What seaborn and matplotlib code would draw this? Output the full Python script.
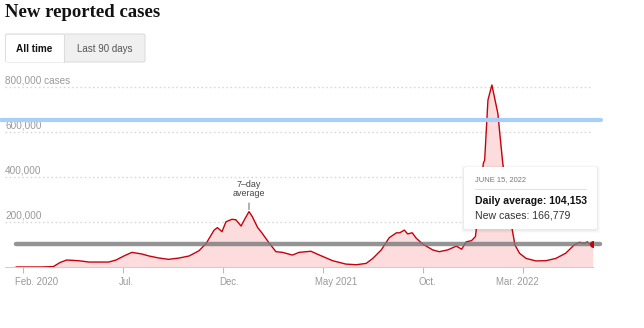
import matplotlib
matplotlib.use("Agg")
import matplotlib.pyplot as plt
import matplotlib.dates as mdates
from matplotlib.patches import FancyBboxPatch, Rectangle
from matplotlib.lines import Line2D
import matplotlib.transforms as mtransforms
import seaborn as sns
import pandas as pd
import numpy as np

# ---------------- data ----------------
dates = ["2020-01-21", "2020-03-01", "2020-03-18", "2020-03-28", "2020-04-07", "2020-04-25",
         "2020-05-11", "2020-06-10", "2020-06-21", "2020-07-03", "2020-07-15", "2020-07-30",
         "2020-08-10", "2020-08-25", "2020-09-09", "2020-09-25", "2020-10-10", "2020-10-25",
         "2020-11-05", "2020-11-17", "2020-11-22", "2020-11-29", "2020-12-05", "2020-12-14",
         "2020-12-20", "2020-12-28", "2021-01-02", "2021-01-09", "2021-01-14", "2021-01-22",
         "2021-01-29", "2021-02-09", "2021-02-19", "2021-03-01", "2021-03-16", "2021-03-26",
         "2021-04-13", "2021-04-26", "2021-05-16", "2021-06-05", "2021-06-21", "2021-07-06",
         "2021-07-16", "2021-07-29", "2021-08-10", "2021-08-21", "2021-08-26", "2021-09-02",
         "2021-09-07", "2021-09-14", "2021-09-20", "2021-09-30", "2021-10-15", "2021-10-25",
         "2021-11-07", "2021-11-20", "2021-11-28", "2021-12-05", "2021-12-13", "2021-12-19",
         "2021-12-23", "2021-12-31", "2022-01-02", "2022-01-07", "2022-01-13", "2022-01-22",
         "2022-01-29", "2022-02-05", "2022-02-13", "2022-02-17", "2022-02-24", "2022-03-06",
         "2022-03-21", "2022-04-05", "2022-04-20", "2022-05-05", "2022-05-18", "2022-05-26",
         "2022-06-02", "2022-06-07", "2022-06-10", "2022-06-15"]
cases_7day = [0, 0, 2000, 20000, 31000, 28000,
              22000, 22000, 31000, 49000, 65000, 58000,
              49000, 40000, 34000, 40000, 49000, 72000,
              105000, 164000, 175000, 157000, 201000, 212000,
              210000, 182000, 210000, 246000, 224000, 176000,
              150000, 105000, 68000, 65000, 53000, 65000,
              70000, 53000, 28000, 13000, 10000, 16000,
              38000, 76000, 130000, 152000, 152000, 164000,
              147000, 152000, 128000, 102000, 76000, 68000,
              76000, 93000, 79000, 112000, 117000, 135000,
              238000, 461000, 475000, 742000, 809000, 683000,
              475000, 300000, 164000, 98000, 61000, 38000,
              27000, 28000, 38000, 61000, 98000, 110000,
              105000, 112000, 102000, 104153]

y_ticks = [200000, 400000, 600000, 800000]
y_tick_labels = ["200,000", "400,000", "600,000", "800,000 cases"]
x_ticks = ["2020-02-01", "2020-07-01", "2020-12-01", "2021-05-01", "2021-10-01", "2022-03-01"]
x_tick_labels = ["Feb. 2020", "Jul.", "Dec.", "May 2021", "Oct.", "Mar. 2022"]

blue_ref_value = 653000
gray_ref_value = 102000
annot_date = "2021-01-09"
annot_value = 246000
tooltip_date = "JUNE 15, 2022"
tooltip_avg = "Daily average: 104,153"
tooltip_new = "New cases: 166,779"

df = pd.DataFrame({"date": pd.to_datetime(dates), "cases": cases_7day})

# ---------------- figure ----------------
W, H = 644, 328
sns.set_theme(style="white")
plt.rcParams["font.family"] = ["Liberation Sans", "DejaVu Sans"]
fig = plt.figure(figsize=(W / 100, H / 100), dpi=100)

def fx(x):
    return x / W

def fy(y):
    return 1 - y / H

ymax = 850000
ax_left, ax_right, ax_bottom_px, ax_top_px = 5, 593, 267, 75.75
ax = fig.add_axes([fx(ax_left), fy(ax_bottom_px), (ax_right - ax_left) / W,
                   (ax_bottom_px - ax_top_px) / H])

RED = "#c8000a"
FILL = "#fcdcdc"

ax.fill_between(df["date"], df["cases"], 0, color=FILL, linewidth=0, zorder=1)
sns.lineplot(data=df, x="date", y="cases", ax=ax, color=RED, linewidth=1.0, zorder=3)
ax.plot(df["date"].iloc[-1:], df["cases"].iloc[-1:], "o", color=RED, markersize=4.0, zorder=6)

ax.set_xlim(pd.Timestamp("2020-01-04 08:00"), pd.Timestamp("2022-06-15 14:00"))
ax.set_ylim(0, ymax)
ax.set_xlabel("")
ax.set_ylabel("")

# grid
for v in y_ticks:
    ax.axhline(v, color="#d9d9d9", lw=1.0, ls=(0, (1.2, 1.8)), zorder=0)
for s in ["top", "right", "left"]:
    ax.spines[s].set_visible(False)
ax.spines["bottom"].set_color("#cfcfcf")
ax.spines["bottom"].set_linewidth(0.8)

# y tick labels above the gridlines
ax.set_yticks(y_ticks)
ax.set_yticklabels(y_tick_labels)
ax.tick_params(axis="y", length=0, pad=0, labelsize=7.2, labelcolor="#999999")
for lab in ax.get_yticklabels():
    lab.set_ha("left")
    lab.set_va("bottom")
    lab.set_transform(lab.get_transform() + mtransforms.ScaledTranslation(0, 1.0 / 72, fig.dpi_scale_trans))

# x ticks
ax.set_xticks(pd.to_datetime(x_ticks))
ax.set_xticklabels(x_tick_labels)
ax.tick_params(axis="x", length=4, width=0.8, color="#bbbbbb", pad=3,
               labelsize=6.9, labelcolor="#999999", bottom=True)
x_label_offsets = [-8, -4, -4, -7.6, -4.7, -27]
for lab, off in zip(ax.get_xticklabels(), x_label_offsets):
    lab.set_ha("left")
    lab.set_transform(lab.get_transform() + mtransforms.ScaledTranslation(off / 100, 0, fig.dpi_scale_trans))

# reference lines
ax_w = ax_right - ax_left
ax.axhline(blue_ref_value, xmin=(1 - ax_left) / ax_w, xmax=(601 - ax_left) / ax_w,
           color="#a6d0f7", lw=3.0, solid_capstyle="round", clip_on=False, zorder=5)
ax.axhline(gray_ref_value, xmin=(16 - ax_left) / ax_w, xmax=(600 - ax_left) / ax_w,
           color="#7a7a7a", alpha=0.8, lw=3.2, solid_capstyle="round", clip_on=False, zorder=5)

# 7-day average annotation
ax.annotate("7–day\naverage", xy=(pd.Timestamp(annot_date), annot_value),
            xytext=(0, 9.5), textcoords="offset points", ha="center", va="bottom",
            fontsize=6.4, color="#444444", linespacing=1.0,
            arrowprops=dict(arrowstyle="-", color="#777777", lw=0.8, shrinkA=1, shrinkB=1.5),
            zorder=6)

# title
fig.text(fx(5), fy(12.5), "New reported cases", fontsize=13.5, fontweight="bold",
         family=["Liberation Serif", "DejaVu Serif"], color="#121212", va="center", ha="left")

# buttons
btn_border = FancyBboxPatch((fx(5.5), fy(62)), fx(139.5), (62 - 34) / H,
                            boxstyle="round,pad=0,rounding_size=0.004",
                            transform=fig.transFigure, facecolor="#f0f0f0",
                            edgecolor="#dddddd", lw=0.8, zorder=1)
fig.patches.append(btn_border)
btn_left = Rectangle((fx(6), fy(61.5)), fx(58), (61.5 - 34.5) / H, transform=fig.transFigure,
                     facecolor="white", edgecolor="none", zorder=2)
fig.patches.append(btn_left)
fig.add_artist(Line2D([fx(64), fx(64)], [fy(34.5), fy(61.5)], color="#dddddd", lw=0.8,
                      transform=fig.transFigure, zorder=3))
fig.text(fx(34.5), fy(48.5), "All time", fontsize=7.2, fontweight="bold", color="#121212",
         ha="center", va="center")
fig.text(fx(104.5), fy(48.5), "Last 90 days", fontsize=7.0, color="#555555",
         ha="center", va="center")

# tooltip
tx0, ty0, tx1, ty1 = 464, 167, 597, 229
for i, a in enumerate([0.035, 0.025, 0.015]):
    d = i + 1
    sh = FancyBboxPatch((fx(tx0 - d), fy(ty1 + d + 1)), fx(tx1 - tx0 + 2 * d), (ty1 - ty0 + 2 * d) / H,
                        boxstyle="round,pad=0,rounding_size=0.006", transform=fig.transFigure,
                        facecolor="black", edgecolor="none", alpha=a, zorder=20)
    fig.patches.append(sh)
tip = FancyBboxPatch((fx(tx0), fy(ty1)), fx(tx1 - tx0), (ty1 - ty0) / H,
                     boxstyle="round,pad=0,rounding_size=0.004", transform=fig.transFigure,
                     facecolor="white", edgecolor="none", lw=0, zorder=21)
fig.patches.append(tip)
fig.text(fx(475), fy(180), tooltip_date, fontsize=5.4, color="#777777", ha="left",
         va="center", zorder=22)
fig.add_artist(Line2D([fx(475), fx(586)], [fy(189), fy(189)], color="#e2e2e2", lw=0.8,
                      transform=fig.transFigure, zorder=22))
fig.text(fx(475), fy(201.5), tooltip_avg, fontsize=7.6, fontweight="bold", color="#121212",
         ha="left", va="center", zorder=22)
fig.text(fx(475), fy(215.5), tooltip_new, fontsize=7.6, color="#333333",
         ha="left", va="center", zorder=22)

fig.savefig("out.png", dpi=100)
